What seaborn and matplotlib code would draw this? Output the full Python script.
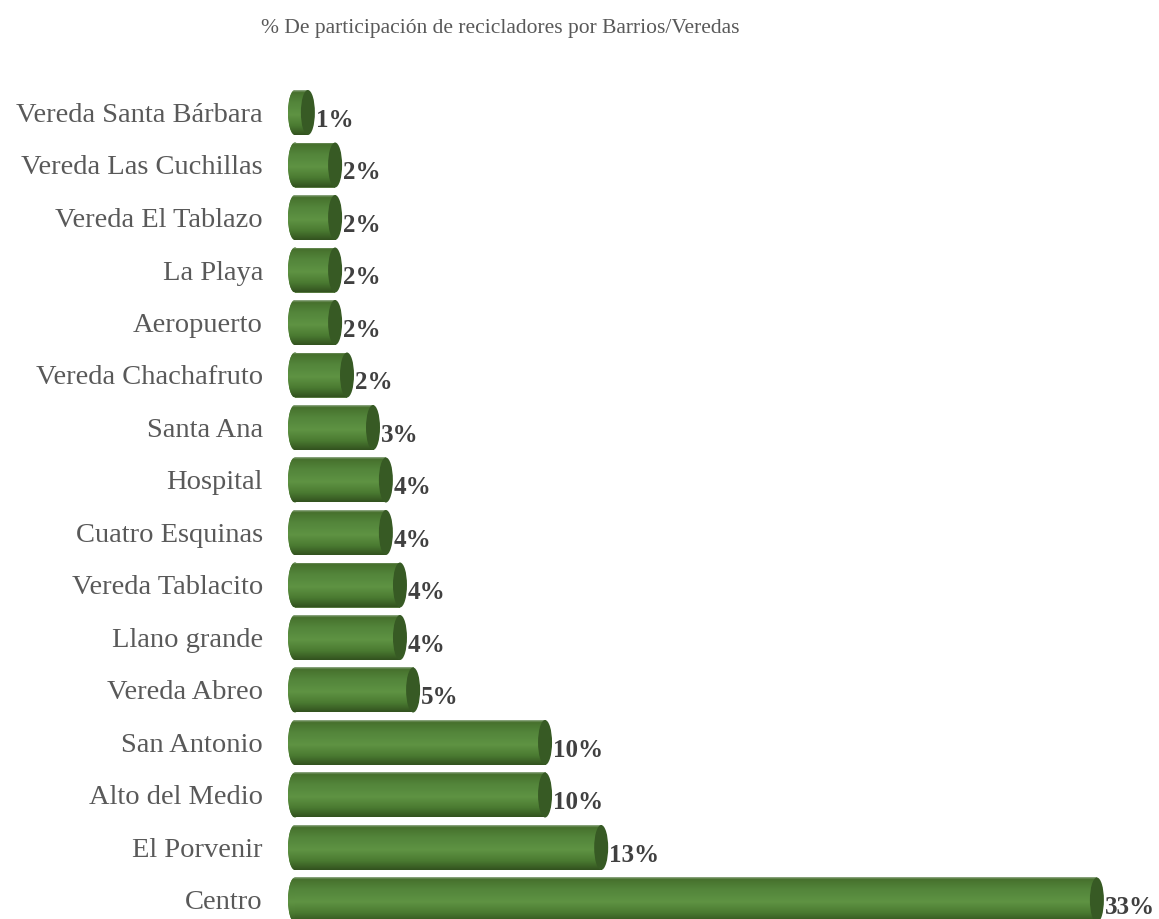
import numpy as np
import pandas as pd
import matplotlib
matplotlib.use("Agg")
import matplotlib.pyplot as plt
from matplotlib.patches import Ellipse
from matplotlib.colors import LinearSegmentedColormap
import seaborn as sns

zonas = ["Vereda Santa Bárbara", "Vereda Las Cuchillas", "Vereda El Tablazo", "La Playa",
         "Aeropuerto", "Vereda Chachafruto", "Santa Ana", "Hospital", "Cuatro Esquinas",
         "Vereda Tablacito", "Llano grande", "Vereda Abreo", "San Antonio", "Alto del Medio",
         "El Porvenir", "Centro"]
valores = [0.53, 1.65, 1.65, 1.65, 1.65, 2.14, 3.21, 3.74, 3.74, 4.32, 4.32, 4.86,
           10.29, 10.29, 12.6, 33.0]
etiquetas = [f"{v:.0f}%" for v in valores]
titulo = "% De participación de recicladores por Barrios/Veredas"

sns.set_theme(style="white")
plt.rcParams["font.family"] = ["Liberation Serif", "DejaVu Serif"]

W, H = 1159, 919
fig = plt.figure(figsize=(W / 100, H / 100), dpi=100)
px_per_unit = 24.3
row_px = 52.5
first_row_px = 112.5
ax_left_px = 288
x0 = -7 / px_per_unit
x1 = x0 + (W - ax_left_px) / px_per_unit
ax = fig.add_axes([ax_left_px / W, 0, (W - ax_left_px) / W, 1])

df = pd.DataFrame({"zona": zonas, "pct": valores})
bar_h = 45 / row_px
sns.barplot(data=df, y="zona", x="pct", order=zonas, orient="h", width=bar_h,
            color="#548235", ax=ax, zorder=1.5)

cmap = LinearSegmentedColormap.from_list(
    "cyl", [(0.0, "#8fa884"), (0.04, "#46702c"), (0.25, "#52843a"), (0.55, "#5f9343"),
            (0.8, "#4a7a31"), (1.0, "#33531f")])
grad = np.linspace(0, 1, 64).reshape(-1, 1)
capw = 14 / px_per_unit

for i, p in enumerate(list(ax.patches)):
    px, py, pw, ph = p.get_x(), p.get_y(), p.get_width(), p.get_height()
    p.set_edgecolor("none")
    yc = py + ph / 2
    left = Ellipse((px, yc), capw, ph, facecolor="#4f8035", edgecolor="none", zorder=1.2)
    ax.add_patch(left)
    im_l = ax.imshow(grad, extent=(px - capw / 2, px + capw / 2, py + ph, py), aspect="auto",
                     cmap=cmap, zorder=1.3, interpolation="bilinear")
    im_l.set_clip_path(left)
    im = ax.imshow(grad, extent=(px, px + pw, py + ph, py), aspect="auto", cmap=cmap,
                   zorder=2, interpolation="bilinear")
    im.set_clip_path(p)
    cap = Ellipse((px + pw, yc), capw, ph, facecolor="#375a24", edgecolor="none", zorder=3)
    ax.add_patch(cap)
    ax.text(px + pw + capw / 2 + 1 / px_per_unit, yc + 0.15, etiquetas[i], ha="left",
            va="center", fontsize=18, fontweight="bold", color="#404040", zorder=4)

ax.set_xlim(x0, x1)
ax.set_ylim((H - first_row_px) / row_px, -first_row_px / row_px)
ax.set_xlabel("")
ax.set_ylabel("")
ax.set_xticks([])
ax.tick_params(axis="y", length=0, pad=18, labelsize=20.5, labelcolor="#595959")
for s in ax.spines.values():
    s.set_visible(False)
ax.patch.set_alpha(0)

fig.text(500 / W, 1 - 28 / H, titulo, ha="center", va="center", fontsize=15.5, color="#595959")

fig.savefig("out.png", dpi=100)
